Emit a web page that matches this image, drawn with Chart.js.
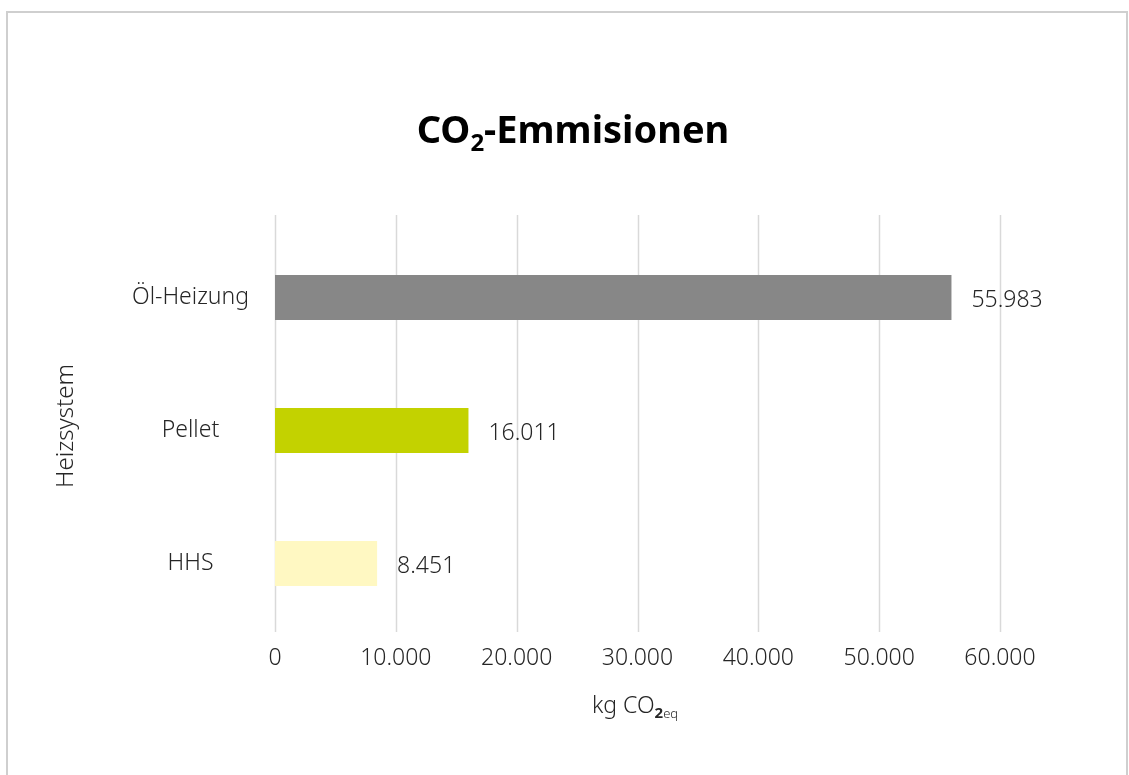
<!DOCTYPE html>
<html>
<head>
<meta charset="utf-8">
<script src="https://cdn.jsdelivr.net/npm/chart.js@4"></script>
<style>
  html, body { margin: 0; padding: 0; background: #fff; }
  #wrap { position: relative; width: 1129px; height: 775px; }
</style>
</head>
<body>
<div id="wrap"><canvas id="chart" width="1129" height="775"></canvas></div>
<script>
// Data
const categories = ['Öl-Heizung', 'Pellet', 'HHS'];
const emissions  = [55983, 16011, 8451];
const barColors  = ['#878787', '#c3d200', '#fff8c2'];
const xTicks     = [0, 10000, 20000, 30000, 40000, 50000, 60000];

const FONT = '"Noto Sans", "Open Sans", sans-serif';
const TEXT = '#262626';

// 55983 -> "55.983"
function fmtDE(n) {
  return String(Math.round(n)).replace(/\B(?=(\d{3})+(?!\d))/g, '.');
}

// draw a list of text runs (with optional subscript offset) centred on cx
function drawRuns(ctx, runs, cx, cy) {
  let total = 0;
  for (const r of runs) { ctx.font = r.font; total += ctx.measureText(r.t).width; }
  let x = cx - total / 2;
  ctx.textAlign = 'left';
  ctx.textBaseline = 'alphabetic';
  for (const r of runs) {
    ctx.font = r.font;
    ctx.fillStyle = r.color;
    ctx.fillText(r.t, x, cy + (r.dy || 0));
    x += ctx.measureText(r.t).width;
  }
}

const decorations = {
  id: 'decorations',
  beforeDraw(chart) {
    const ctx = chart.ctx;
    ctx.save();
    ctx.fillStyle = '#fff';
    ctx.fillRect(0, 0, chart.width, chart.height);
    ctx.strokeStyle = '#cfcfcf';
    ctx.lineWidth = 2;
    ctx.strokeRect(7, 12, 1120, 790);
    ctx.restore();
  },
  // vertical gridlines run a bit past the category bands, like the Excel original
  beforeDatasetsDraw(chart) {
    const ctx = chart.ctx;
    const x = chart.scales.x;
    ctx.save();
    ctx.strokeStyle = '#d9d9d9';
    ctx.lineWidth = 1.5;
    for (const v of xTicks) {
      const px = Math.round(x.getPixelForValue(v)) + 0.5;
      ctx.beginPath();
      ctx.moveTo(px, 215);
      ctx.lineTo(px, 632);
      ctx.stroke();
    }
    ctx.restore();
  },
  afterDatasetsDraw(chart) {
    const ctx = chart.ctx;
    const meta = chart.getDatasetMeta(0);
    ctx.save();
    ctx.font = `300 23px ${FONT}`;
    ctx.fillStyle = TEXT;
    ctx.textAlign = 'left';
    ctx.textBaseline = 'middle';
    meta.data.forEach((bar, i) => {
      ctx.fillText(fmtDE(emissions[i]), bar.x + 20, bar.y + 3);
    });
    ctx.restore();
  },
  afterDraw(chart) {
    const ctx = chart.ctx;
    ctx.save();
    // title
    drawRuns(ctx, [
      { t: 'CO', font: `bold 38px ${FONT}`, color: '#000' },
      { t: '2', font: `bold 24px ${FONT}`, color: '#000', dy: 8 },
      { t: '-Emmisionen', font: `bold 38px ${FONT}`, color: '#000' },
    ], 573, 143);
    // x axis title
    drawRuns(ctx, [
      { t: 'kg CO', font: `300 23px ${FONT}`, color: TEXT },
      { t: '2', font: `bold 15px ${FONT}`, color: TEXT, dy: 5 },
      { t: 'eq', font: `300 13px ${FONT}`, color: TEXT, dy: 5 },
    ], 635, 713);
    // y axis title
    ctx.translate(66, 426);
    ctx.rotate(-Math.PI / 2);
    ctx.font = `300 24px ${FONT}`;
    ctx.fillStyle = TEXT;
    ctx.textAlign = 'center';
    ctx.textBaseline = 'middle';
    ctx.fillText('Heizsystem', 0, 0);
    ctx.restore();
  },
};

new Chart(document.getElementById('chart').getContext('2d'), {
  type: 'bar',
  data: {
    labels: categories,
    datasets: [{
      label: 'kg CO2eq',
      data: emissions,
      backgroundColor: barColors,
      borderWidth: 0,
      barPercentage: 0.34,
      categoryPercentage: 1,
    }],
  },
  options: {
    indexAxis: 'y',
    responsive: false,
    animation: false,
    layout: { padding: { left: 0, top: 231, right: 129, bottom: 0 } },
    plugins: {
      legend: { display: false },
      tooltip: { enabled: false },
    },
    scales: {
      x: {
        min: 0,
        max: 60000,
        afterBuildTicks: s => { s.ticks = xTicks.map(v => ({ value: v })); },
        afterFit: s => { s.height = 145; },
        grid: { display: false, drawTicks: false },
        border: { display: false },
        ticks: {
          color: TEXT,
          font: { family: FONT, size: 23, weight: '300' },
          padding: 15,
          maxRotation: 0,
          callback: v => fmtDE(v),
        },
      },
      y: {
        afterFit: s => { s.width = 275; },
        grid: { display: false, drawTicks: false },
        border: { display: false },
        ticks: {
          color: TEXT,
          font: { family: FONT, size: 23, weight: '300' },
          padding: 26,
          crossAlign: 'center',
        },
      },
    },
  },
  plugins: [decorations],
});
</script>
</body>
</html>
